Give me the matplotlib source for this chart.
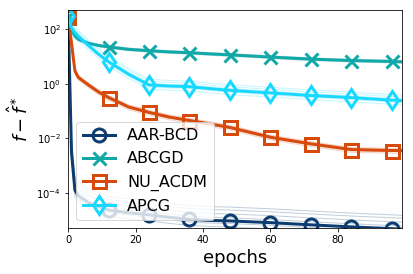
import matplotlib
matplotlib.use("Agg")
import matplotlib.pyplot as plt
import matplotlib.ticker as mticker

epochs = [0, 1, 2, 3, 6, 9, 12, 18, 24, 30, 36, 42, 48, 60, 72, 84, 96, 99]

aar_bcd = [300, 3e-3, 1.3e-4, 8e-5, 4.5e-5, 3.2e-5, 2.4e-5, 1.9e-5, 1.6e-5,
           1.3e-5, 1.1e-5, 1.0e-5, 9.6e-6, 8.3e-6, 6.9e-6, 5.8e-6, 5.0e-6, 4.8e-6]
abcgd = [300, 90, 55, 42, 30, 25, 22, 18, 16, 14.5, 13.5, 12.3, 11.3, 9.4,
         7.9, 7.0, 6.5, 6.3]
nu_acdm = [280, 30, 3.0, 1.7, 0.9, 0.5, 0.31, 0.14, 0.089, 0.06, 0.045,
           0.034, 0.025, 0.011, 0.0063, 0.0039, 0.0036, 0.0036]
apcg = [300, 110, 75, 55, 25, 12, 6.3, 2.2, 0.9, 0.82, 0.78, 0.66, 0.57,
        0.46, 0.37, 0.31, 0.25, 0.24]

# spread of the individual runs drawn as thin lines behind each mean curve
aar_runs = [0.6, 0.8, 1.3, 1.8, 2.5, 3.2]
abcgd_runs = [0.88, 0.94, 1.06, 1.12]
nu_runs = [0.8, 0.9, 1.1, 1.2]
apcg_runs = [0.7, 0.85, 1.15, 1.35, 1.6]

names = ["AAR-BCD", "ABCGD", "NU_ACDM", "APCG"]
colors = ["#0c3c70", "#12a8a8", "#d8490c", "#18d8ff"]
markers = ["o", "x", "s", "d"]
series = [aar_bcd, abcgd, nu_acdm, apcg]
runs = [aar_runs, abcgd_runs, nu_runs, apcg_runs]

mark_idx = [i for i, e in enumerate(epochs) if e % 12 == 0]

fig = plt.figure(figsize=(413 / 72, 274 / 72), dpi=72)
ax = fig.add_axes([0.165, 0.168, 0.808, 0.796])

for name, col, mk, ys, rs in zip(names, colors, markers, series, runs):
    for r in rs:
        ax.plot(epochs, [y * r if i > 0 else y for i, y in enumerate(ys)],
                color=col, lw=1, alpha=0.25)
    ax.plot(epochs, ys, color=col, lw=3, marker=mk, markersize=13,
            markevery=mark_idx, markerfacecolor="none", markeredgewidth=3,
            label=name)

ax.set_yscale("log")
ax.set_xlim(0, 99)
ax.set_ylim(5.3e-6, 500)
ax.yaxis.set_major_locator(mticker.FixedLocator([1e-4, 1e-2, 1e0, 1e2]))
ax.yaxis.set_minor_locator(mticker.NullLocator())
ax.set_xticks([0, 20, 40, 60, 80])
ax.tick_params(labelsize=10)
ax.set_xlabel("epochs", fontsize=18)
ax.set_ylabel(r"$f-\hat{f}^*$", fontsize=18)
ax.legend(loc="lower left", fontsize=16)

fig.savefig("out.png", dpi=72)
